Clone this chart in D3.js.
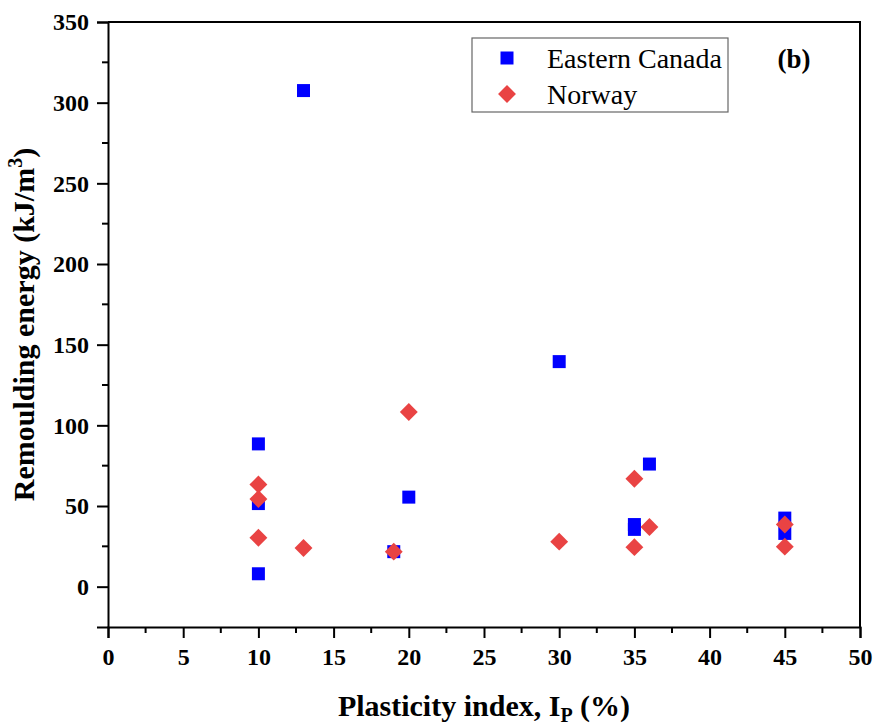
<!DOCTYPE html>
<html>
<head>
<meta charset="utf-8">
<script src="https://cdn.jsdelivr.net/npm/d3@7"></script>
<style>
  html, body { margin: 0; padding: 0; background: #fff; }
  svg { display: block; }
  text { font-family: "Liberation Serif", "Times New Roman", serif; fill: #000; }
</style>
</head>
<body>
<svg id="chart" width="877" height="726"></svg>
<script>
// Plasticity index (%) and remoulding energy (kJ/m3) for each site group
const canadaIp     = [10, 10, 10, 13, 19, 20, 30, 35, 35, 36, 45, 45];
const canadaEnergy = [88.5, 51.5, 8, 307.5, 21.7, 55.5, 139.5, 38.5, 35.5, 76, 42.5, 33];
const norwayIp     = [10, 10, 10, 13, 19, 20, 30, 35, 35, 36, 45, 45];
const norwayEnergy = [63.3, 54.3, 30.3, 24, 21.7, 108.3, 27.9, 66.9, 24.5, 37, 38.5, 24.8];

const xTicks = [0, 5, 10, 15, 20, 25, 30, 35, 40, 45, 50];
const yTicks = [0, 50, 100, 150, 200, 250, 300, 350];
const seriesNames = ["Eastern Canada", "Norway"];

const svg = d3.select("#chart");
const plot = { left: 108, right: 860, top: 22, bottom: 627 };

const x = d3.scaleLinear().domain([0, 50]).range([plot.left, plot.right]);
const y = d3.scaleLinear().domain([-25, 350]).range([plot.bottom, plot.top]);

const blue = "#0000ff";
const red = "#e94343";

// frame: top and right edges
svg.append("path")
  .attr("d", `M${plot.left},${plot.top}H${plot.right}V${plot.bottom}`)
  .attr("fill", "none").attr("stroke", "#000").attr("stroke-width", 2);

// minor ticks halfway between major ticks
const xMinor = d3.range(2.5, 50, 5);
const yMinor = d3.range(25, 350, 50);

const xAxis = svg.append("g")
  .attr("transform", `translate(0,${plot.bottom})`)
  .call(d3.axisBottom(x).tickValues(xTicks).tickFormat(d3.format("d")).tickSizeOuter(0).tickSize(11).tickPadding(10));
xAxis.selectAll(".minor").data(xMinor).enter().append("line")
  .attr("class", "minor").attr("x1", d => x(d)).attr("x2", d => x(d))
  .attr("y1", 0).attr("y2", 6).attr("stroke", "#000").attr("stroke-width", 2);

const yAxis = svg.append("g")
  .attr("transform", `translate(${plot.left},0)`)
  .call(d3.axisLeft(y).tickValues(yTicks).tickFormat(d3.format("d")).tickSizeOuter(0).tickSize(11).tickPadding(8));
yAxis.selectAll(".minor").data(yMinor).enter().append("line")
  .attr("class", "minor").attr("y1", d => y(d)).attr("y2", d => y(d))
  .attr("x1", 0).attr("x2", -6).attr("stroke", "#000").attr("stroke-width", 2);

[xAxis, yAxis].forEach(g => {
  g.select(".domain").attr("stroke", "#000").attr("stroke-width", 2);
  g.selectAll(".tick line").attr("stroke", "#000").attr("stroke-width", 2);
  g.selectAll(".tick text")
    .style("font-family", '"Liberation Serif", serif')
    .style("font-size", "24px").style("font-weight", "bold").attr("fill", "#000");
});
xAxis.selectAll(".tick text").attr("dy", "0.71em");

// axis titles
const xTitle = svg.append("text")
  .attr("x", (plot.left + plot.right) / 2).attr("y", 716)
  .attr("text-anchor", "middle")
  .style("font-size", "30px").style("font-weight", "bold");
xTitle.append("tspan").text("Plasticity index, I");
xTitle.append("tspan").attr("dy", 6).style("font-size", "20px").text("P");
xTitle.append("tspan").attr("dy", -6).text(" (%)");

const yTitle = svg.append("text")
  .attr("transform", `translate(34,${(plot.top + plot.bottom) / 2}) rotate(-90)`)
  .attr("text-anchor", "middle")
  .style("font-size", "30px").style("font-weight", "bold");
yTitle.append("tspan").text("Remoulding energy (kJ/m");
yTitle.append("tspan").attr("dy", -12).style("font-size", "20px").text("3");
yTitle.append("tspan").attr("dy", 12).text(")");

// markers: blue squares and red diamonds (rotated squares)
const square = d3.symbol().type(d3.symbolSquare).size(169);
const diamond = d3.symbol().type(d3.symbolSquare).size(160);

svg.append("g").selectAll("path")
  .data(canadaIp.map((v, i) => [v, canadaEnergy[i]]))
  .enter().append("path")
  .attr("d", square)
  .attr("transform", d => `translate(${x(d[0])},${y(d[1])})`)
  .attr("fill", blue);

svg.append("g").selectAll("path")
  .data(norwayIp.map((v, i) => [v, norwayEnergy[i]]))
  .enter().append("path")
  .attr("d", diamond)
  .attr("transform", d => `translate(${x(d[0])},${y(d[1])}) rotate(45)`)
  .attr("fill", red);

// legend
const legend = svg.append("g");
legend.append("rect")
  .attr("x", 472).attr("y", 38).attr("width", 256).attr("height", 74)
  .attr("fill", "#fff").attr("stroke", "#666").attr("stroke-width", 1.2);
const legendRows = [
  { name: seriesNames[0], sym: square, color: blue, rot: 0, cy: 58 },
  { name: seriesNames[1], sym: diamond, color: red, rot: 45, cy: 94 }
];
legendRows.forEach(r => {
  legend.append("path").attr("d", r.sym)
    .attr("transform", `translate(507,${r.cy}) rotate(${r.rot})`)
    .attr("fill", r.color);
  legend.append("text").attr("x", 547).attr("y", r.cy + 10)
    .style("font-size", "28px").text(r.name);
});

svg.append("text").attr("x", 794).attr("y", 68)
  .attr("text-anchor", "middle")
  .style("font-size", "27px").style("font-weight", "bold").text("(b)");
</script>
</body>
</html>
